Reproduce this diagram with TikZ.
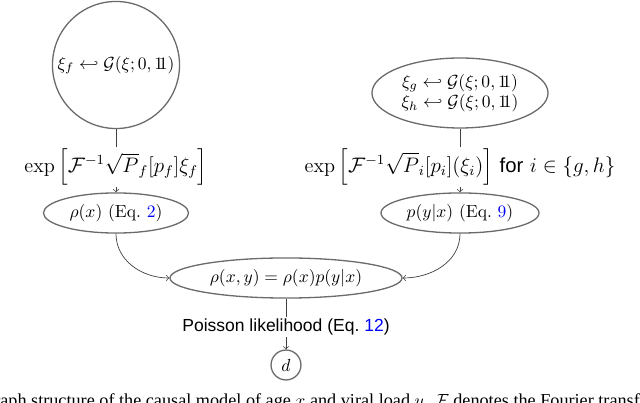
\documentclass[tikz,border=0pt]{standalone}
\usepackage{fontspec}
\usepackage{amsmath,amssymb}
\newfontfamily\sansf{Liberation Sans}
\newfontfamily\capf{Liberation Serif}
\newcommand{\onevec}{\mathrm{1\mkern-4.5mu 1}}
\usetikzlibrary{shapes.geometric}
\begin{document}
\begin{tikzpicture}[x=0.5714pt,y=-0.5714pt,
  nd/.style={draw=black!58, line width=0.75pt, inner sep=0pt},
  el/.style={nd, ellipse},
  conn/.style={draw=black!75, line width=0.4pt},
  lab/.style={fill=white, inner sep=1pt},
  biglab/.style={lab, font=\fontsize{11.6}{14}\selectfont}]
\useasboundingbox (0,0) rectangle (640,403);
\clip (0,0) rectangle (640,403);
\node[nd, circle, minimum size=72.6pt] (cf) at (116,65) {$\xi_f \hookleftarrow \mathcal{G}(\xi;0,\onevec)$};
\node[el, minimum width=82.9pt, minimum height=22.9pt] (rhox) at (116,213) {$\rho(x)$ (Eq.~\textcolor{blue}{2})};
\node[el, minimum width=100.6pt, minimum height=40pt, align=center] (cgh) at (460,93)
  {$\xi_g \hookleftarrow \mathcal{G}(\xi;0,\onevec)$\\[-0.5pt]$\xi_h \hookleftarrow \mathcal{G}(\xi;0,\onevec)$};
\node[el, minimum width=90.3pt, minimum height=22.9pt] (pyx) at (460,213) {$p(y|x)$ (Eq.~\textcolor{blue}{9})};
\node[el, minimum width=132.6pt, minimum height=22.9pt] (joint) at (286,278) {$\rho(x,y)=\rho(x)p(y|x)$};
\node[nd, circle, minimum size=17.1pt] (d) at (286,365) {$d$};
\draw[conn,->] (cf) -- node[biglab, pos=0.6] {$\exp\left[\mathcal{F}^{-1}\sqrt{P}_f[p_f]\xi_f\right]$} (rhox);
\draw[conn,->] (cgh) -- node[biglab, pos=0.6] {$\exp\left[\mathcal{F}^{-1}\sqrt{P}_i[p_i](\xi_i)\right]$ {\sansf for} $i\in\{g,h\}$} (pyx);
\draw[conn,->] (rhox.south) to[out=-90,in=180] (joint.west);
\draw[conn,->] (pyx.south) to[out=-90,in=0] (joint.east);
\draw[conn,->] (joint) -- node[lab, pos=0.56] {\sansf Poisson likelihood (Eq.~\textcolor{blue}{12})} (d);
\node[anchor=base west, inner sep=0pt, font=\fontsize{10.4}{12}\selectfont] (cap) at (0,407) {\capf\llap{Gr}aph structure of the causal model of age $x$ and viral load $y$. $\mathcal{F}$ denotes the Fourier transform};
\end{tikzpicture}
\end{document}
